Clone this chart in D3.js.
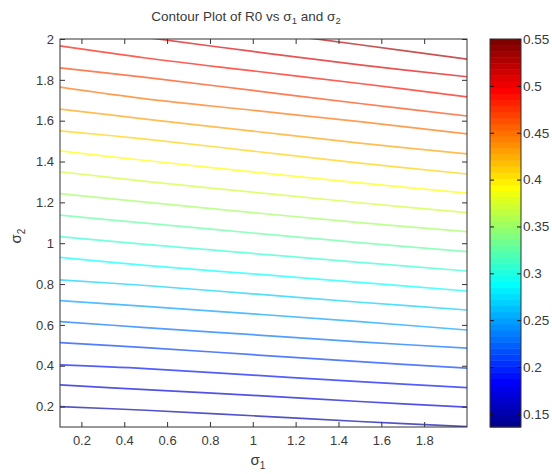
<!DOCTYPE html>
<html>
<head>
<meta charset="utf-8">
<script src="https://cdn.jsdelivr.net/npm/d3@7"></script>
<style>
  body { margin: 0; background: #fff; }
  svg { display: block; }
  text { font-family: "Liberation Sans", Arial, Helvetica, sans-serif; fill: #3a3a3a; }
</style>
</head>
<body>
<svg id="chart" width="552" height="474"></svg>
<script>
// sigma_1 sample positions where each contour's sigma_2 is tabulated
const sigma1 = [0.1, 0.5, 1.0, 1.5, 2.0];

// contour levels of R0
const levels = [0.15, 0.17, 0.19, 0.21, 0.23, 0.25, 0.27, 0.29, 0.31, 0.33,
                0.35, 0.37, 0.39, 0.41, 0.43, 0.45, 0.47, 0.49, 0.51, 0.53];

// sigma_2 of each contour level at the sigma1 samples (one row per level)
const contourSigma2 = [
  [0.200, 0.182, 0.155, 0.127, 0.102],
  [0.306, 0.283, 0.255, 0.225, 0.197],
  [0.404, 0.386, 0.354, 0.322, 0.293],
  [0.513, 0.489, 0.454, 0.420, 0.388],
  [0.616, 0.587, 0.552, 0.517, 0.486],
  [0.719, 0.691, 0.654, 0.616, 0.575],
  [0.820, 0.793, 0.752, 0.711, 0.673],
  [0.931, 0.891, 0.850, 0.808, 0.766],
  [1.032, 0.994, 0.950, 0.906, 0.864],
  [1.138, 1.098, 1.050, 1.003, 0.959],
  [1.243, 1.201, 1.150, 1.101, 1.057],
  [1.350, 1.303, 1.250, 1.198, 1.150],
  [1.452, 1.405, 1.349, 1.295, 1.245],
  [1.550, 1.510, 1.451, 1.392, 1.339],
  [1.657, 1.608, 1.549, 1.490, 1.437],
  [1.764, 1.707, 1.651, 1.595, 1.535],
  [1.859, 1.812, 1.748, 1.684, 1.623],
  [1.966, 1.907, 1.844, 1.782, 1.717],
  [2.064, 2.008, 1.939, 1.873, 1.815],
  [2.166, 2.109, 2.041, 1.972, 1.901]
];

// axis ticks
const xTicks = [0.2, 0.4, 0.6, 0.8, 1.0, 1.2, 1.4, 1.6, 1.8];
const yTicks = [0.2, 0.4, 0.6, 0.8, 1.0, 1.2, 1.4, 1.6, 1.8, 2.0];
const cbarTicks = [0.15, 0.2, 0.25, 0.3, 0.35, 0.4, 0.45, 0.5, 0.55];

// colour limits of R0 over the grid
const colorRange = [0.136, 0.55];

// ---- layout ----
const plot = { left: 60, right: 467, top: 39, bottom: 427 };
const cbar = { left: 490, right: 521 };

const svg = d3.select("#chart");

const x = d3.scaleLinear().domain([0.1, 2.0]).range([plot.left, plot.right]);
const y = d3.scaleLinear().domain([0.1, 2.0]).range([plot.bottom, plot.top]);
const yc = d3.scaleLinear().domain(colorRange).range([plot.bottom, plot.top]);

// MATLAB-style jet colormap with m entries
function jet(m) {
  const n = Math.ceil(m / 4);
  const u = [];
  for (let i = 1; i <= n; i++) u.push(i / n);
  for (let i = 1; i < n; i++) u.push(1);
  for (let i = n; i >= 1; i--) u.push(i / n);
  const J = Array.from({ length: m }, () => [0, 0, 0]);
  const off = Math.ceil(n / 2) - (m % 4 === 1 ? 1 : 0);
  u.forEach((v, k) => {
    const g = off + k + 1, r = g + n, b = g - n;
    if (g >= 1 && g <= m) J[g - 1][1] = v;
    if (r >= 1 && r <= m) J[r - 1][0] = v;
    if (b >= 1 && b <= m) J[b - 1][2] = v;
  });
  return J.map(c => d3.rgb(c[0] * 255, c[1] * 255, c[2] * 255).formatHex());
}
const cmap = jet(64);
const colorIndex = d3.scaleQuantize().domain(colorRange).range(d3.range(64));
const colorOf = v => cmap[colorIndex(Math.max(colorRange[0], Math.min(colorRange[1], v)))];

// ---- contour lines ----
svg.append("defs").append("clipPath").attr("id", "plotClip")
  .append("rect")
  .attr("x", plot.left).attr("y", plot.top)
  .attr("width", plot.right - plot.left).attr("height", plot.bottom - plot.top);

const line = d3.line()
  .x(d => x(d[0]))
  .y(d => y(d[1]))
  .curve(d3.curveCatmullRom.alpha(0.5));

svg.append("g").attr("clip-path", "url(#plotClip)")
  .selectAll("path")
  .data(levels.map((lv, i) => ({ level: lv, pts: sigma1.map((s, j) => [s, contourSigma2[i][j]]) })))
  .join("path")
  .attr("d", d => line(d.pts))
  .attr("fill", "none")
  .attr("stroke", d => colorOf(d.level))
  .attr("stroke-width", 1.7)
  .attr("stroke-opacity", 0.68);

// ---- axes (ticks point inward, box on) ----
const fmt = d => String(+d.toFixed(2));
const axisColor = "#333";

const gx = svg.append("g").attr("transform", `translate(0,${plot.bottom})`)
  .call(d3.axisBottom(x).tickValues(xTicks).tickFormat(fmt).tickSizeInner(-5).tickSizeOuter(0).tickPadding(9));
const gxTop = svg.append("g").attr("transform", `translate(0,${plot.top})`)
  .call(d3.axisTop(x).tickValues(xTicks).tickFormat("").tickSizeInner(-5).tickSizeOuter(0));
const gy = svg.append("g").attr("transform", `translate(${plot.left},0)`)
  .call(d3.axisLeft(y).tickValues(yTicks).tickFormat(fmt).tickSizeInner(-5).tickSizeOuter(0).tickPadding(6));
const gyRight = svg.append("g").attr("transform", `translate(${plot.right},0)`)
  .call(d3.axisRight(y).tickValues(yTicks).tickFormat("").tickSizeInner(-5).tickSizeOuter(0));

[gx, gxTop, gy, gyRight].forEach(g => {
  g.select(".domain").remove();
  g.selectAll(".tick line").attr("stroke", axisColor);
  g.selectAll(".tick text").attr("font-size", 13).attr("fill", "#3a3a3a")
    .attr("font-family", '"Liberation Sans", Arial, sans-serif');
});

svg.append("rect")
  .attr("x", plot.left).attr("y", plot.top)
  .attr("width", plot.right - plot.left).attr("height", plot.bottom - plot.top)
  .attr("fill", "none").attr("stroke", axisColor).attr("stroke-width", 1);

// ---- colorbar ----
const bandVals = d3.range(64).map(i => colorRange[0] + (colorRange[1] - colorRange[0]) * i / 64);
const bandH = (plot.bottom - plot.top) / 64;
svg.append("g").selectAll("rect")
  .data(bandVals)
  .join("rect")
  .attr("x", cbar.left)
  .attr("y", (d, i) => yc(d) - bandH)
  .attr("width", cbar.right - cbar.left)
  .attr("height", bandH + 0.5)
  .attr("fill", (d, i) => cmap[i]);

const gc = svg.append("g").attr("transform", `translate(${cbar.right},0)`)
  .call(d3.axisRight(yc).tickValues(cbarTicks).tickFormat(fmt).tickSizeInner(-4).tickSizeOuter(0).tickPadding(2));
const gcL = svg.append("g").attr("transform", `translate(${cbar.left},0)`)
  .call(d3.axisLeft(yc).tickValues(cbarTicks).tickFormat("").tickSizeInner(-4).tickSizeOuter(0));
[gc, gcL].forEach(g => {
  g.select(".domain").remove();
  g.selectAll(".tick line").attr("stroke", "#111");
  g.selectAll(".tick text").attr("font-size", 13.5).attr("fill", "#3a3a3a")
    .attr("font-family", '"Liberation Sans", Arial, sans-serif');
});
svg.append("rect")
  .attr("x", cbar.left).attr("y", plot.top)
  .attr("width", cbar.right - cbar.left).attr("height", plot.bottom - plot.top)
  .attr("fill", "none").attr("stroke", axisColor).attr("stroke-width", 1);

// ---- title and axis labels ----
const title = svg.append("text")
  .attr("x", 246).attr("y", 21)
  .attr("text-anchor", "middle")
  .attr("font-size", 13.5);
title.append("tspan").text("Contour Plot of R0 vs σ");
title.append("tspan").attr("font-size", 9.5).attr("dy", 3).text("1");
title.append("tspan").attr("dy", -3).text(" and σ");
title.append("tspan").attr("font-size", 9.5).attr("dy", 3).text("2");

const xl = svg.append("text")
  .attr("x", 258).attr("y", 465)
  .attr("text-anchor", "middle")
  .attr("font-size", 15);
xl.append("tspan").text("σ");
xl.append("tspan").attr("font-size", 10).attr("dy", 4).text("1");

const yl = svg.append("text")
  .attr("transform", "translate(21,236) rotate(-90)")
  .attr("text-anchor", "middle")
  .attr("font-size", 15);
yl.append("tspan").text("σ");
yl.append("tspan").attr("font-size", 10).attr("dy", 4).text("2");
</script>
</body>
</html>
